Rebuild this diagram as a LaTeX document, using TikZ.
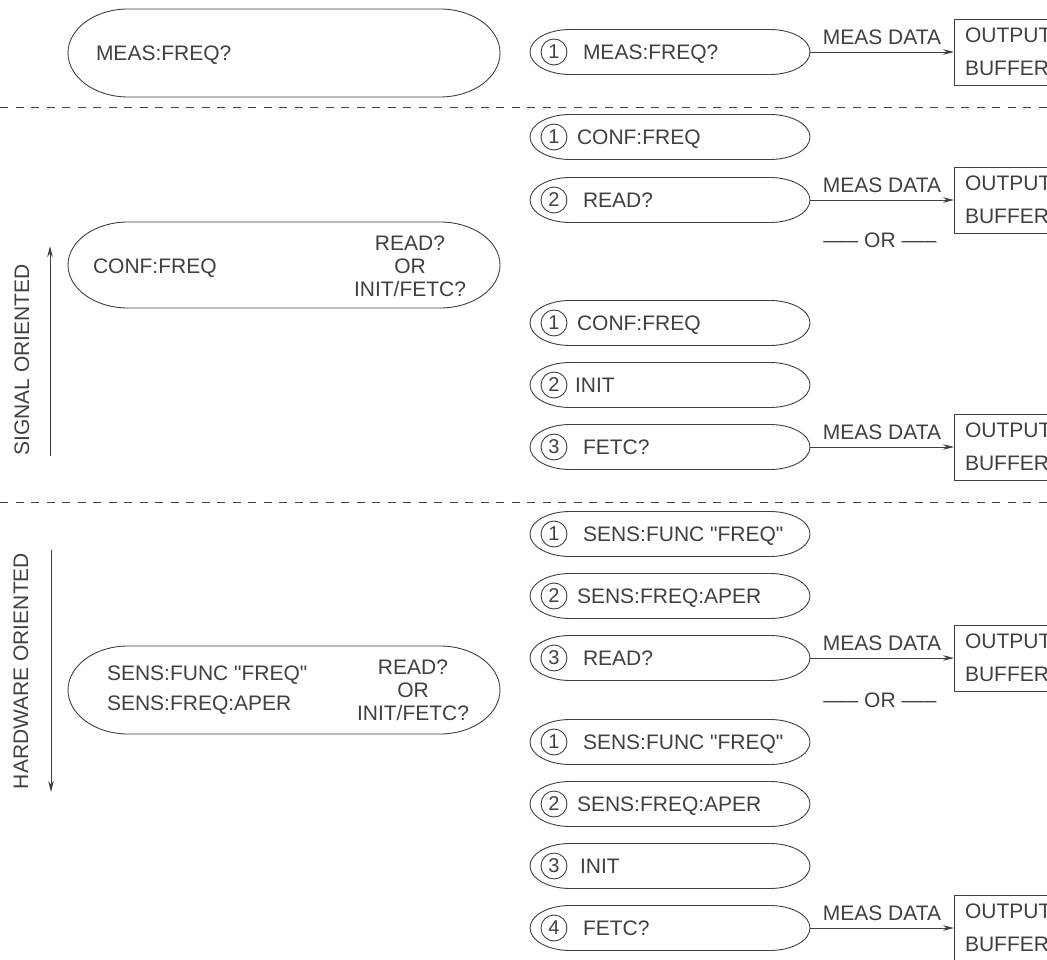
\documentclass[tikz,border=0pt]{standalone}
\usepackage{fontspec}
\setmainfont{Liberation Sans}[Ligatures=TeXOff]
\usetikzlibrary{arrows.meta}

\colorlet{ink}{black!75}

\tikzset{
  outline/.style={draw=ink, line width=0.9pt},
  txt/.style={inner sep=0pt, outer sep=0pt, text=ink, font=\fontsize{21}{23}\selectfont},
  num/.style={circle, draw=ink, line width=0.9pt, minimum size=26pt, inner sep=0pt,
              text=ink, font=\fontsize{20}{20}\selectfont},
  buffer/.style={draw=ink, line width=0.9pt, minimum width=200pt, minimum height=66pt,
                 anchor=west, inner sep=0pt},
  flow/.style={draw=ink, line width=0.9pt, -{Stealth[length=11pt,width=5.5pt]}},
  divider/.style={draw=ink, line width=0.9pt, dash pattern=on 8pt off 7.5pt},
}

% pill: name, centre x, centre y, width, height, x radius of the ends
\newcommand\pillnode[6]{%
  \node[inner sep=0pt, outer sep=0pt, minimum width=#4pt, minimum height=#5pt] (#1) at (#2,#3) {};
  \draw[outline] ([xshift=#6pt]#1.north west) -- ([xshift=-#6pt]#1.north east)
    arc[start angle=90, end angle=-90, x radius=#6pt, y radius=#5pt/2]
    -- ([xshift=#6pt]#1.south west)
    arc[start angle=270, end angle=90, x radius=#6pt, y radius=#5pt/2] -- cycle;
}

% numbered command step: name, centre y, number, text x, text
\newcommand\steprow[5]{%
  \pillnode{#1}{670}{#2}{280}{45}{40}
  \node[num] (#1n) at (554,#2) {#3};
  \node[txt, anchor=base west] (#1t) at (#4,#2+7.5) {#5};
}

% output buffer fed from a step: buffer name, step name
\newcommand\bufferfrom[2]{%
  \path (#2.east) ++(144,0) node[buffer] (#1) {};
  \node[txt, anchor=west, align=left, font=\fontsize{21}{33}\selectfont] (#1t)
    at ([xshift=11pt]#1.west) {OUTPUT\\BUFFER};
  \draw[flow] (#2.east) -- (#1.west) node[txt, midway, above=7pt] (#1l) {MEAS DATA};
}

\begin{document}
\begin{tikzpicture}[x=1pt,y=-1pt]
\clip (0,0) rectangle (1047,960);

% ---- single query ----
\pillnode{meas}{284}{53}{432}{88}{60}
\node[txt, anchor=base west] (meast) at (96,60.5) {MEAS:FREQ?};

\steprow{a1}{52}{1}{583}{MEAS:FREQ?}
\bufferfrom{bufa}{a1}

\coordinate (d1a) at (0,107);
\coordinate (d1b) at (1047,107);
\draw[divider] (d1a) -- (d1b);

% ---- signal oriented ----
\pillnode{conf}{284}{265}{432}{86}{60}
\node[txt, anchor=base west] (conft) at (93,273.5) {CONF:FREQ};
\node[txt, anchor=base] (confr1) at (410,250.5) {READ?};
\node[txt, anchor=base] (confr2) at (410,273.5) {OR};
\node[txt, anchor=base] (confr3) at (410,296.5) {INIT/FETC?};

\steprow{b1}{137}{1}{577}{CONF:FREQ}
\steprow{b2}{200}{2}{583}{READ?}
\bufferfrom{bufb}{b2}
\node[txt] (orb) at (880,240) {––– OR –––};
\steprow{b3}{323}{1}{577}{CONF:FREQ}
\steprow{b4}{385}{2}{575}{INIT}
\steprow{b5}{447}{3}{583}{FETC?}
\bufferfrom{bufc}{b5}

\coordinate (sigbot) at (50,456);
\coordinate (sigtop) at (50,246);
\draw[flow] (sigbot) -- (sigtop);
\node[txt, rotate=90] (sigl) at (22,360) {SIGNAL ORIENTED};

\coordinate (d2a) at (0,502);
\coordinate (d2b) at (1047,502);
\draw[divider] (d2a) -- (d2b);

% ---- hardware oriented ----
\pillnode{hw}{284}{690}{432}{88}{60}
\node[txt, anchor=base west] (hwt1) at (107,680.5) {SENS:FUNC "FREQ"};
\node[txt, anchor=base west] (hwt2) at (107,710.5) {SENS:FREQ:APER};
\node[txt, anchor=base] (hwr1) at (413,674.5) {READ?};
\node[txt, anchor=base] (hwr2) at (413,697.5) {OR};
\node[txt, anchor=base] (hwr3) at (413,720.5) {INIT/FETC?};

\steprow{c1}{534}{1}{583}{SENS:FUNC "FREQ"}
\steprow{c2}{596}{2}{577}{SENS:FREQ:APER}
\steprow{c3}{658}{3}{583}{READ?}
\bufferfrom{bufd}{c3}
\node[txt] (orc) at (880,700) {––– OR –––};
\steprow{c4}{742}{1}{583}{SENS:FUNC "FREQ"}
\steprow{c5}{804}{2}{577}{SENS:FREQ:APER}
\steprow{c6}{866}{3}{580}{INIT}
\steprow{c7}{928}{4}{583}{FETC?}
\bufferfrom{bufe}{c7}

\coordinate (hwtop) at (51,550);
\coordinate (hwbot) at (51,792);
\draw[flow] (hwtop) -- (hwbot);
\node[txt, rotate=90] (hwl) at (21,671) {HARDWARE ORIENTED};
\end{tikzpicture}
\end{document}
